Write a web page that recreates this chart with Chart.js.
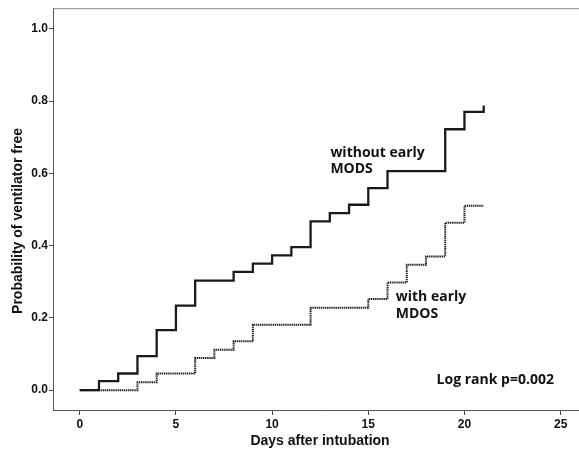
<!DOCTYPE html>
<html>
<head>
<meta charset="utf-8">
<script src="https://cdn.jsdelivr.net/npm/chart.js@4"></script>
<style>
  html, body { margin: 0; padding: 0; background: #fff; overflow: hidden; }
  #wrap { width: 590px; height: 452px; }
</style>
</head>
<body>
<div id="wrap"><canvas id="km"></canvas></div>
<script>
// Kaplan-Meier curves (probability of ventilator free)
const daysWithout = [0, 1, 2, 3, 4, 5, 6, 8, 9, 10, 11, 12, 13, 14, 15, 16, 19, 20, 21];
const probWithout = [0, 0.025, 0.046, 0.094, 0.166, 0.234, 0.303, 0.327, 0.350, 0.373, 0.396, 0.467, 0.490, 0.513, 0.559, 0.606, 0.722, 0.770, 0.788];

const daysWith = [0, 3, 4, 6, 7, 8, 9, 12, 15, 16, 17, 18, 19, 20, 21];
const probWith = [0, 0.022, 0.046, 0.089, 0.112, 0.135, 0.181, 0.228, 0.252, 0.298, 0.347, 0.370, 0.463, 0.510, 0.510];

const xTicks = [0, 5, 10, 15, 20, 25];
const yTicks = [0.0, 0.2, 0.4, 0.6, 0.8, 1.0];

const xTitle = 'Days after intubation';
const yTitle = 'Probability of ventilator free';

// in-plot labels, placed in data units
const notes = [
  { text: 'without early', x: 13.03, y: 0.657 },
  { text: 'MODS', x: 13.03, y: 0.611 },
  { text: 'with early', x: 16.43, y: 0.257 },
  { text: 'MDOS', x: 16.43, y: 0.211 },
  { text: 'Log rank p=0.002', x: 18.55, y: 0.027 }
];

const toPoints = (xs, ys) => xs.map((d, i) => ({ x: d, y: ys[i] }));

const frameAndText = {
  id: 'frameAndText',
  afterDraw(chart) {
    const { ctx, chartArea: a, scales } = chart;
    ctx.save();
    // top border of the box
    ctx.strokeStyle = '#8a8a8a';
    ctx.lineWidth = 1;
    ctx.beginPath();
    ctx.moveTo(a.left, a.top + 0.5);
    ctx.lineTo(a.right, a.top + 0.5);
    ctx.stroke();

    ctx.fillStyle = '#111';
    ctx.font = 'bold 14px "Open Sans"';
    ctx.textBaseline = 'middle';
    ctx.textAlign = 'left';
    notes.forEach(n => {
      ctx.fillText(n.text, scales.x.getPixelForValue(n.x), scales.y.getPixelForValue(n.y));
    });

    ctx.font = 'bold 14px "Liberation Sans", Arial, sans-serif';
    ctx.textAlign = 'center';
    ctx.fillText(xTitle, 320, 441);
    ctx.translate(18, 221);
    ctx.rotate(-Math.PI / 2);
    ctx.fillText(yTitle, 0, 0);
    ctx.restore();
  }
};

new Chart(document.getElementById('km'), {
  type: 'line',
  data: {
    datasets: [
      {
        label: 'without early MODS',
        data: toPoints(daysWithout, probWithout),
        stepped: 'before',
        borderColor: '#1a1a1a',
        borderWidth: 2.3,
        pointRadius: 0,
        fill: false
      },
      {
        label: 'with early MDOS',
        data: toPoints(daysWith, probWith),
        stepped: 'before',
        borderColor: '#222',
        borderWidth: 2,
        borderDash: [1.4, 0.7],
        pointRadius: 0,
        fill: false
      }
    ]
  },
  options: {
    responsive: true,
    maintainAspectRatio: false,
    animation: false,
    layout: { padding: { top: 8, right: 3, left: 0, bottom: 0 } },
    plugins: {
      legend: { display: false },
      tooltip: { enabled: false }
    },
    scales: {
      x: {
        type: 'linear',
        min: -1.39,
        max: 26.37,
        afterBuildTicks: s => { s.ticks = xTicks.map(v => ({ value: v })); },
        afterFit: s => { s.height = 42; },
        grid: { drawOnChartArea: false, drawTicks: true, tickLength: 5, color: '#444' },
        border: { color: '#555', width: 1 },
        ticks: {
          color: '#111',
          padding: 2,
          maxRotation: 0,
          font: { family: '"Liberation Sans", Arial, sans-serif', size: 12, weight: 'bold' }
        }
      },
      y: {
        type: 'linear',
        min: -0.055,
        max: 1.057,
        afterBuildTicks: s => { s.ticks = yTicks.map(v => ({ value: v })); },
        afterFit: s => { s.width = 53; },
        grid: { drawOnChartArea: false, drawTicks: true, tickLength: 4, color: '#444' },
        border: { color: '#555', width: 1 },
        ticks: {
          color: '#111',
          padding: 1,
          callback: v => v.toFixed(1),
          font: { family: '"Liberation Sans", Arial, sans-serif', size: 12, weight: 'bold' }
        }
      }
    }
  },
  plugins: [frameAndText]
});
</script>
</body>
</html>
